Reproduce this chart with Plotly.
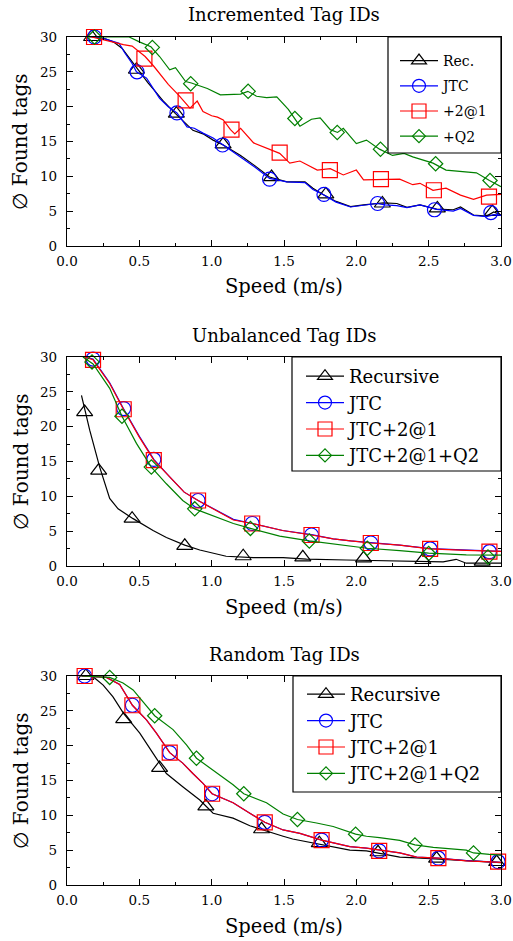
import plotly.graph_objects as go

# ---------------- Panel 1: Incremented Tag IDs ----------------
inc_rec_x = [0.15, 0.2, 0.27, 0.32, 0.38, 0.43, 0.48, 0.56, 0.61, 0.67, 0.75, 0.83, 0.87, 0.94, 1.01, 1.08, 1.2, 1.3, 1.4,
             1.52, 1.645, 1.7, 1.77, 1.86, 1.96, 2.05, 2.14, 2.19, 2.28, 2.35, 2.44, 2.555, 2.67, 2.72, 2.81, 2.9, 2.95, 3.0]
inc_rec_y = [30.0, 30.0, 29.7, 29.3, 28.4, 27.0, 25.5, 23.4, 22.2, 20.7, 19.0, 17.4, 16.6, 16.1, 15.2, 14.5, 13.0, 11.5, 9.9,
             9.2, 9.2, 8.3, 7.4, 6.4, 5.65, 5.9, 6.1, 6.2, 6.1, 5.55, 5.9, 5.3, 5.2, 5.6, 4.45, 4.3, 4.9, 4.45]
inc_rec_mx = [0.17, 0.48, 0.756, 1.079, 1.414, 1.789, 2.18, 2.56, 2.94]
inc_rec_my = [30.0, 25.3, 19.0, 14.6, 9.9, 7.4, 6.1, 5.4, 4.9]

inc_jtc_x = [0.18, 0.25, 0.36, 0.4, 0.45, 0.48, 0.55, 0.64, 0.7, 0.76, 0.83, 0.88, 0.94, 1.01, 1.08, 1.2, 1.3, 1.4, 1.52,
             1.645, 1.7, 1.77, 1.86, 1.96, 2.05, 2.14, 2.2, 2.28, 2.35, 2.44, 2.555, 2.67, 2.72, 2.81, 2.9, 2.95, 3.0]
inc_jtc_y = [30.0, 29.8, 29.1, 27.7, 26.2, 25.0, 24.1, 21.2, 20.0, 19.1, 17.1, 16.9, 16.2, 15.5, 14.5, 12.8, 11.3, 9.7, 9.2,
             9.1, 8.1, 7.4, 6.3, 5.6, 5.8, 6.1, 5.9, 5.8, 5.5, 5.9, 5.25, 5.0, 5.4, 4.4, 4.2, 4.5, 4.4]
inc_jtc_mx = [0.19, 0.484, 0.76, 1.075, 1.40, 1.776, 2.147, 2.54, 2.93]
inc_jtc_my = [30.0, 25.0, 19.1, 14.5, 9.6, 7.4, 6.1, 5.2, 4.8]

inc_p21_x = [0.17, 0.3, 0.39, 0.45, 0.5, 0.54, 0.6, 0.64, 0.7, 0.77, 0.82, 0.85, 0.9, 0.94, 1.0, 1.04, 1.08, 1.13, 1.16, 1.2,
             1.29, 1.4, 1.47, 1.54, 1.61, 1.73, 1.82, 1.91, 2.0, 2.05, 2.19, 2.3, 2.39, 2.44, 2.53, 2.62, 2.72, 2.81, 2.9, 3.0]
inc_p21_y = [30.0, 29.3, 28.9, 28.7, 27.9, 27.2, 25.8, 24.8, 23.2, 21.7, 20.6, 19.8, 20.8, 19.3, 18.7, 18.5, 18.1, 16.7, 16.1,
             16.9, 14.8, 13.9, 13.3, 11.9, 12.2, 10.9, 11.1, 10.2, 10.9, 9.5, 9.5, 9.6, 8.8, 9.0, 8.0, 8.3, 7.3, 6.7, 7.3, 7.4]
inc_p21_mx = [0.187, 0.535, 0.82, 1.137, 1.47, 1.817, 2.17, 2.536, 2.917]
inc_p21_my = [30.0, 26.9, 20.9, 16.7, 13.4, 10.9, 9.6, 8.0, 7.1]

inc_q2_x = [0.2, 0.43, 0.5, 0.58, 0.64, 0.71, 0.75, 0.82, 0.86, 0.97, 1.06, 1.13, 1.2, 1.25, 1.31, 1.38, 1.45, 1.53, 1.57,
            1.61, 1.69, 1.75, 1.82, 1.87, 1.91, 2.0, 2.07, 2.16, 2.25, 2.33, 2.39, 2.53, 2.62, 2.74, 2.83, 2.92, 3.0]
inc_q2_y = [30.0, 30.0, 29.3, 28.6, 27.2, 25.3, 25.6, 23.6, 23.4, 22.6, 21.7, 21.8, 21.8, 22.2, 21.5, 21.3, 21.4, 19.6, 18.3,
            17.2, 18.2, 18.4, 16.7, 16.3, 16.9, 14.7, 15.2, 13.9, 13.0, 13.3, 12.8, 11.9, 10.9, 10.7, 10.5, 9.4, 8.5]
inc_q2_mx = [0.19, 0.59, 0.855, 1.252, 1.575, 1.868, 2.167, 2.548, 2.924]
inc_q2_my = [30.0, 28.5, 23.3, 22.2, 18.3, 16.3, 13.9, 11.8, 9.4]

# ---------------- Panel 2: Unbalanced Tag IDs ----------------
unb_rec_x = [0.1, 0.157, 0.226, 0.295, 0.353, 0.457, 0.595, 0.687, 0.814, 0.918, 1.1, 1.287, 1.494, 1.656, 1.93, 2.07,
             2.39, 2.6, 2.69, 2.76, 3.0]
unb_rec_y = [24.5, 19.5, 14.2, 9.7, 8.2, 6.8, 5.1, 4.1, 3.0, 2.3, 1.4, 1.2, 1.2, 1.0, 0.86, 0.8, 0.62, 0.6, 0.96, 0.4, 0.4]
unb_rec_mx = [0.122, 0.219, 0.45, 0.814, 1.218, 1.63, 2.05, 2.46, 2.87]
unb_rec_my = [22.1, 13.7, 6.8, 2.9, 1.4, 1.25, 1.1, 0.86, 0.62]

unb_jtc_x = [0.12, 0.18, 0.295, 0.39, 0.5, 0.6, 0.71, 0.81, 0.906, 1.03, 1.15, 1.28, 1.38, 1.49, 1.69, 1.84, 1.96, 2.1,
             2.3, 2.51, 2.76, 3.0]
unb_jtc_y = [30.0, 29.7, 26.3, 22.6, 18.6, 15.3, 12.8, 10.6, 9.4, 8.0, 6.7, 6.1, 5.6, 5.1, 4.5, 3.9, 3.6, 3.35, 3.0, 2.5,
             2.3, 2.1]
unb_jtc_mx = [0.18, 0.392, 0.6, 0.906, 1.28, 1.69, 2.1, 2.51, 2.92]
unb_jtc_my = [29.7, 22.6, 15.3, 9.4, 6.1, 4.45, 3.3, 2.45, 2.05]

unb_p21_x = [0.12, 0.18, 0.295, 0.39, 0.5, 0.6, 0.71, 0.81, 0.906, 1.03, 1.15, 1.28, 1.38, 1.49, 1.69, 1.84, 1.96, 2.1,
             2.3, 2.51, 2.76, 3.0]
unb_p21_y = [30.0, 29.6, 26.2, 22.5, 18.5, 15.2, 12.8, 10.6, 9.4, 8.0, 6.6, 6.1, 5.6, 5.1, 4.45, 3.9, 3.6, 3.3, 3.0, 2.45,
             2.25, 2.1]
unb_p21_mx = [0.18, 0.392, 0.6, 0.906, 1.28, 1.69, 2.1, 2.51, 2.92]
unb_p21_my = [29.6, 22.5, 15.2, 9.4, 6.1, 4.45, 3.3, 2.45, 2.05]

unb_q2_x = [0.11, 0.18, 0.295, 0.38, 0.48, 0.583, 0.687, 0.8, 0.883, 1.03, 1.15, 1.268, 1.38, 1.47, 1.675, 1.84, 1.96,
            2.076, 2.3, 2.5, 2.76, 3.0]
unb_q2_y = [30.0, 29.0, 25.5, 21.5, 17.6, 14.2, 11.8, 9.4, 8.2, 7.0, 6.1, 5.4, 4.8, 4.3, 3.6, 3.2, 2.8, 2.55, 2.2, 1.85,
            1.6, 1.55]
unb_q2_mx = [0.173, 0.38, 0.583, 0.883, 1.268, 1.675, 2.076, 2.5, 2.91]
unb_q2_my = [29.3, 21.5, 14.2, 8.2, 5.4, 3.6, 2.55, 1.8, 1.3]

# ---------------- Panel 3: Random Tag IDs ----------------
rnd_rec_x = [0.1, 0.18, 0.25, 0.318, 0.392, 0.503, 0.595, 0.687, 0.8, 0.918, 1.01, 1.148, 1.264, 1.379, 1.494, 1.56,
             1.725, 1.84, 1.955, 2.07, 2.186, 2.3, 2.417, 2.532, 2.76, 3.0]
rnd_rec_y = [30.0, 29.9, 28.7, 27.0, 24.6, 21.8, 18.9, 16.0, 14.1, 12.2, 10.3, 9.6, 8.5, 7.7, 7.0, 6.6, 5.9, 5.5, 5.0,
             4.9, 4.4, 4.0, 3.9, 3.8, 3.5, 3.2]
rnd_rec_mx = [0.13, 0.392, 0.64, 0.96, 1.345, 1.744, 2.15, 2.555, 2.97]
rnd_rec_my = [30.0, 23.8, 16.8, 11.3, 8.0, 6.0, 4.7, 3.8, 3.3]

rnd_jtc_x = [0.1, 0.272, 0.364, 0.452, 0.549, 0.618, 0.71, 0.8, 0.87, 0.94, 1.003, 1.148, 1.264, 1.367, 1.494, 1.61,
             1.76, 1.955, 2.07, 2.16, 2.3, 2.417, 2.567, 2.76, 3.0]
rnd_jtc_y = [30.0, 29.8, 28.8, 25.8, 23.7, 21.8, 19.0, 17.5, 16.0, 14.6, 13.1, 11.8, 10.3, 9.0, 7.9, 7.4, 6.45, 5.5, 5.3,
             5.0, 4.6, 4.0, 3.85, 3.5, 3.25]
rnd_jtc_mx = [0.122, 0.452, 0.71, 1.003, 1.367, 1.76, 2.158, 2.567, 2.98]
rnd_jtc_my = [30.0, 25.8, 19.0, 13.1, 9.0, 6.45, 4.9, 3.85, 3.35]

rnd_p21_x = [0.1, 0.272, 0.364, 0.452, 0.549, 0.618, 0.71, 0.8, 0.87, 0.94, 1.003, 1.148, 1.264, 1.367, 1.494, 1.61,
             1.76, 1.955, 2.07, 2.16, 2.3, 2.417, 2.567, 2.76, 3.0]
rnd_p21_y = [30.0, 29.8, 28.8, 25.8, 23.7, 21.8, 19.0, 17.5, 16.0, 14.6, 13.1, 11.8, 10.3, 9.0, 7.9, 7.4, 6.45, 5.5, 5.3,
             5.0, 4.6, 4.0, 3.85, 3.45, 3.25]
rnd_p21_mx = [0.122, 0.452, 0.71, 1.003, 1.367, 1.76, 2.158, 2.567, 2.98]
rnd_p21_my = [30.0, 25.8, 19.0, 13.1, 9.0, 6.45, 4.9, 3.85, 3.35]

rnd_q2_x = [0.1, 0.295, 0.387, 0.457, 0.526, 0.606, 0.733, 0.826, 0.895, 1.01, 1.148, 1.222, 1.379, 1.494, 1.593, 1.725,
            1.84, 1.995, 2.07, 2.16, 2.3, 2.405, 2.532, 2.76, 2.81, 2.92, 3.0]
rnd_q2_y = [30.0, 29.8, 29.0, 28.0, 26.3, 24.3, 22.3, 20.1, 18.2, 16.5, 14.4, 13.1, 11.8, 10.2, 9.4, 8.9, 8.4, 7.3, 7.0,
            6.8, 6.4, 5.75, 5.4, 5.0, 4.6, 4.4, 4.3]
rnd_q2_mx = [0.295, 0.606, 0.895, 1.222, 1.593, 1.995, 2.405, 2.81]
rnd_q2_my = [29.8, 24.3, 18.2, 13.1, 9.4, 7.3, 5.75, 4.6]

titles = ["Incremented Tag IDs", "Unbalanced Tag IDs", "Random Tag IDs"]
names_short = ["Rec.", "JTC", "+2@1", "+Q2"]
names_long = ["Recursive", "JTC", "JTC+2@1", "JTC+2@1+Q2"]
x_label = "Speed (m/s)"
y_label = "\u2205 Found tags"
x_ticks = [0.0, 0.5, 1.0, 1.5, 2.0, 2.5, 3.0]
y_ticks = [0, 5, 10, 15, 20, 25, 30]

panels = [
    [(inc_rec_x, inc_rec_y, inc_rec_mx, inc_rec_my), (inc_jtc_x, inc_jtc_y, inc_jtc_mx, inc_jtc_my),
     (inc_p21_x, inc_p21_y, inc_p21_mx, inc_p21_my), (inc_q2_x, inc_q2_y, inc_q2_mx, inc_q2_my)],
    [(unb_rec_x, unb_rec_y, unb_rec_mx, unb_rec_my), (unb_jtc_x, unb_jtc_y, unb_jtc_mx, unb_jtc_my),
     (unb_p21_x, unb_p21_y, unb_p21_mx, unb_p21_my), (unb_q2_x, unb_q2_y, unb_q2_mx, unb_q2_my)],
    [(rnd_rec_x, rnd_rec_y, rnd_rec_mx, rnd_rec_my), (rnd_jtc_x, rnd_jtc_y, rnd_jtc_mx, rnd_jtc_my),
     (rnd_p21_x, rnd_p21_y, rnd_p21_mx, rnd_p21_my), (rnd_q2_x, rnd_q2_y, rnd_q2_mx, rnd_q2_my)],
]
legend_names = [names_short, names_long, names_long]

# ---------------- Styling ----------------
W, H = 513, 941
FONT = "DejaVu Serif"
colors = ["black", "#0000ff", "#ff0000", "#008000"]
symbols = ["triangle-up-open", "circle-open", "square-open", "diamond-open"]
msizes = [14, 14, 15, 11]
plot_left, plot_right = 67, 501
plot_tops = [37, 357, 676]
plot_bottoms = [246, 566, 885]
title_y = [15, 335, 654]
legend_font = [14, 18, 18]
legend_boxes = [(388, 501, 37, 153), (292, 501, 357, 471), (293, 501, 676, 792)]
legend_offsets = [(7, 8), (9, 1), (9, 0)]


def px_x(p):
    return p / W


def px_y(p):
    return 1 - p / H


fig = go.Figure()
layout = dict(width=W, height=H, autosize=False, margin=dict(l=0, r=0, t=0, b=0, pad=0),
              paper_bgcolor="white", plot_bgcolor="white", showlegend=True,
              font=dict(family=FONT, color="black"))
annotations = []
shapes = []

for i, series in enumerate(panels):
    k = "" if i == 0 else str(i + 1)
    xa, ya = "x" + k, "y" + k
    leg = "legend" + k
    for j, (lx, ly, mx, my) in enumerate(series):
        fig.add_trace(go.Scatter(x=lx, y=ly, mode="lines", xaxis=xa, yaxis=ya, showlegend=False,
                                 line=dict(color=colors[j], width=1.2), cliponaxis=False, hoverinfo="skip"))
        fig.add_trace(go.Scatter(x=mx, y=my, mode="markers", xaxis=xa, yaxis=ya, showlegend=False,
                                 marker=dict(symbol=symbols[j], size=msizes[j], color=colors[j],
                                             line=dict(color=colors[j], width=1.2)),
                                 cliponaxis=False))
    for j in range(4):
        fig.add_trace(go.Scatter(x=[None], y=[None], mode="lines+markers", xaxis=xa, yaxis=ya,
                                 name=legend_names[i][j], legend=leg, legendgroup=f"g{i}{j}",
                                 line=dict(color=colors[j], width=1.2),
                                 marker=dict(symbol=symbols[j], size=msizes[j] - 1, color=colors[j],
                                             line=dict(color=colors[j], width=1.2))))
    common = dict(showline=True, linecolor="black", linewidth=1.3, mirror="allticks", ticks="inside",
                  ticklen=6, tickwidth=1, tickcolor="black", showgrid=False, zeroline=False,
                  automargin=False, tickfont=dict(family=FONT, size=13.5, color="black"), fixedrange=True)
    layout["xaxis" + k] = dict(common, domain=[px_x(plot_left), px_x(plot_right)], anchor=ya, range=[0, 3],
                               tickvals=x_ticks, tickformat=".1f", ticklabelstandoff=3,
                               minor=dict(ticks="inside", dtick=0.25, ticklen=3, tickcolor="black"))
    layout["yaxis" + k] = dict(common, domain=[px_y(plot_bottoms[i]), px_y(plot_tops[i])], anchor=xa,
                               range=[0, 30], tickvals=y_ticks, ticklabelstandoff=6,
                               minor=dict(ticks="inside", dtick=2.5, ticklen=3, tickcolor="black"))
    bx0, bx1, by0, by1 = legend_boxes[i]
    ox, oy = legend_offsets[i]
    shapes.append(dict(type="rect", xref="paper", yref="paper", x0=px_x(bx0), x1=px_x(bx1),
                       y0=px_y(by1), y1=px_y(by0), line=dict(color="black", width=1.2),
                       fillcolor="white", layer="above"))
    layout[leg] = dict(x=px_x(bx0 + ox), y=px_y(by0 + oy), xanchor="left", yanchor="top",
                       bgcolor="rgba(0,0,0,0)", borderwidth=0,
                       font=dict(family=FONT, size=legend_font[i], color="black"),
                       tracegroupgap=4 if i == 0 else 0, itemwidth=38)
    annotations.append(dict(text=titles[i], x=px_x((plot_left + plot_right) / 2), y=px_y(title_y[i]),
                            xref="paper", yref="paper", showarrow=False, xanchor="center", yanchor="middle",
                            font=dict(family=FONT, size=18, color="black")))
    annotations.append(dict(text=x_label, x=px_x((plot_left + plot_right) / 2), y=px_y(plot_bottoms[i] + 41),
                            xref="paper", yref="paper", showarrow=False, xanchor="center", yanchor="middle",
                            font=dict(family=FONT, size=19.5, color="black")))
    annotations.append(dict(text=y_label, x=px_x(20), y=px_y((plot_tops[i] + plot_bottoms[i]) / 2),
                            xref="paper", yref="paper", showarrow=False, xanchor="center", yanchor="middle",
                            textangle=-90, font=dict(family=FONT, size=20, color="black")))

layout["annotations"] = annotations
layout["shapes"] = shapes
fig.update_layout(**layout)
fig.write_html("out.html", config={"displayModeBar": False},
               post_script="document.body.style.margin='0';document.body.style.overflow='hidden';")
